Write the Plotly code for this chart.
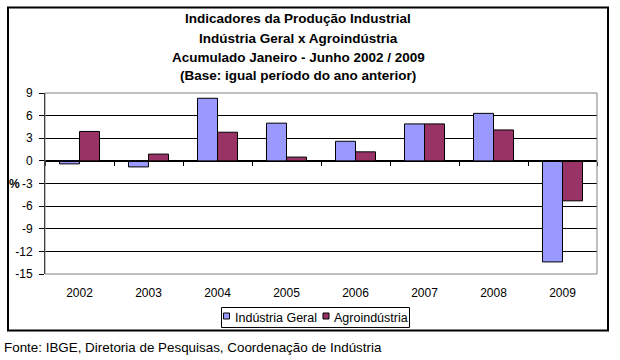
import plotly.graph_objects as go

anos = ["2002", "2003", "2004", "2005", "2006", "2007", "2008", "2009"]
industria_geral = [-0.4, -0.8, 8.3, 5.0, 2.6, 4.9, 6.3, -13.4]
agroindustria = [3.9, 0.9, 3.8, 0.5, 1.2, 4.9, 4.1, -5.3]
y_ticks = [9, 6, 3, 0, -3, -6, -9, -12, -15]

nomes = ["Indústria Geral", "Agroindústria"]
cores = ["#9999FF", "#993366"]

titulo = [
    "Indicadores da Produção Industrial",
    "Indústria Geral x Agroindústria",
    "Acumulado Janeiro - Junho 2002 / 2009",
    "(Base: igual período do ano anterior)",
]
fonte = "Fonte: IBGE, Diretoria de Pesquisas, Coordenação de Indústria"

W, H = 620, 360
L, R, T, B = 45, 597, 93, 274
pw, ph = R - L, B - T


def px_x(x):
    return (x - L) / pw


def px_y(y):
    return (B - y) / ph


FONT = "Liberation Sans, Arial, sans-serif"

fig = go.Figure()
for nome, cor, vals in zip(nomes, cores, [industria_geral, agroindustria]):
    fig.add_trace(go.Bar(
        x=anos, y=vals, name=nome, showlegend=False,
        marker=dict(color=cor, line=dict(color="black", width=1)),
    ))
# invisible trace to carry the zero-line category axis
fig.add_trace(go.Scatter(
    x=anos, y=[None] * len(anos), xaxis="x2", showlegend=False,
    hoverinfo="skip", mode="markers",
))

annotations = []
title_y = [18.5, 38.5, 57.5, 76]
for txt, yy in zip(titulo, title_y):
    annotations.append(dict(
        text="<b>" + txt + "</b>", x=px_x(298), y=px_y(yy), xref="paper", yref="paper",
        showarrow=False, xanchor="center", yanchor="middle",
        font=dict(family=FONT, size=13.5, color="black"),
    ))
annotations.append(dict(
    text="<b>%</b>", x=px_x(14), y=-3, xref="paper", yref="y",
    showarrow=False, xanchor="center", yanchor="middle",
    font=dict(family=FONT, size=12, color="black"),
))
annotations.append(dict(
    text=fonte, x=px_x(2), y=px_y(347), xref="paper", yref="paper",
    showarrow=False, xanchor="left", yanchor="middle",
    font=dict(family=FONT, size=13.4, color="black"),
))

shapes = [
    # plot area border (gray)
    dict(type="rect", xref="paper", yref="paper", x0=0, x1=1, y0=0, y1=1,
         line=dict(color="#808080", width=1), layer="above"),
    # outer chart box
    dict(type="rect", xref="paper", yref="paper",
         x0=px_x(8), x1=px_x(608), y0=px_y(330.5), y1=px_y(7.5),
         line=dict(color="black", width=2)),
    # legend box
    dict(type="rect", xref="paper", yref="paper",
         x0=px_x(221.5), x1=px_x(409.5), y0=px_y(327.5), y1=px_y(307.5),
         line=dict(color="black", width=1), fillcolor="white"),
]

# legend entries
leg_sq_x = [223.5, 323]
leg_txt_x = [233, 332]
for nome, cor, sx, tx in zip(nomes, cores, leg_sq_x, leg_txt_x):
    shapes.append(dict(
        type="rect", xref="paper", yref="paper",
        x0=px_x(sx), x1=px_x(sx + 6), y0=px_y(319), y1=px_y(313),
        line=dict(color="black", width=1), fillcolor=cor,
    ))
    annotations.append(dict(
        text=nome, x=px_x(tx), y=px_y(317.5), xref="paper", yref="paper",
        showarrow=False, xanchor="left", yanchor="middle",
        font=dict(family=FONT, size=12.5, color="black"),
    ))

fig.update_layout(
    width=W, height=H,
    margin=dict(l=L, r=W - R, t=T, b=H - B, pad=0),
    paper_bgcolor="white", plot_bgcolor="white",
    barmode="group", bargap=0.42, bargroupgap=0,
    font=dict(family=FONT, size=12, color="black"),
    showlegend=False,
    xaxis=dict(
        type="category", categoryorder="array", categoryarray=anos,
        showgrid=False, zeroline=False, showline=False, ticks="",
        tickfont=dict(family=FONT, size=12, color="black"),
        ticklabelstandoff=10,
    ),
    xaxis2=dict(
        type="category", categoryorder="array", categoryarray=anos,
        overlaying="x", anchor="free", position=15 / 24,
        showgrid=False, zeroline=False, showline=True, linecolor="black", linewidth=1,
        ticks="outside", tickson="boundaries", ticklen=4, tickcolor="black",
        showticklabels=False, matches="x",
    ),
    yaxis=dict(
        range=[-15, 9], tickvals=y_ticks, ticktext=[str(v) for v in y_ticks],
        showgrid=True, gridcolor="black", gridwidth=1,
        zeroline=False, showline=True, linecolor="black", linewidth=1,
        ticks="outside", ticklen=5, tickcolor="black",
        tickfont=dict(family=FONT, size=12, color="black"),
        ticklabelstandoff=4,
    ),
    annotations=annotations, shapes=shapes,
)

fig.write_html(
    "out.html",
    config={"displayModeBar": False},
    post_script="document.body.style.margin='0';document.body.style.overflow='hidden';",
)
